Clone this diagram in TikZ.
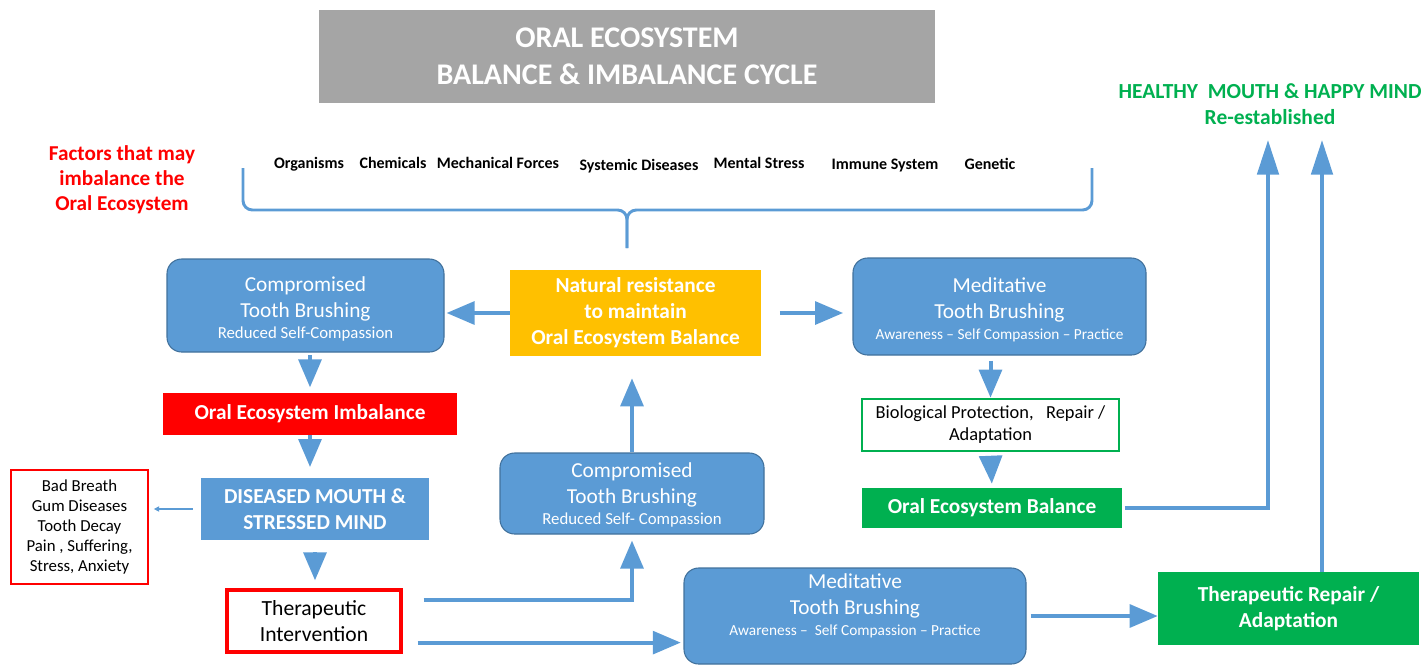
\documentclass[tikz,border=0pt]{standalone}
\usepackage{fontspec}
\setmainfont{Carlito}
\usetikzlibrary{arrows.meta,calc}

\definecolor{flowblue}{HTML}{5B9BD5}
\definecolor{edgeblue}{HTML}{41719C}
\definecolor{resgold}{HTML}{FFC000}
\definecolor{okgreen}{HTML}{00B050}
\definecolor{badred}{HTML}{FF0000}
\definecolor{titlegray}{HTML}{A5A5A5}

\newcommand{\maintxt}{\fontsize{16}{19.5}\selectfont}
\newcommand{\subtxt}{\fontsize{12.6}{16.5}\selectfont}
\newcommand{\medtxt}{\fontsize{11.5}{16.5}\selectfont}

\tikzset{
  flow/.style={draw=flowblue, line width=3pt, -{Triangle[length=21pt,width=17pt]}},
  flowup/.style={draw=flowblue, line width=3pt, -{Triangle[length=26pt,width=16pt]}},
  thinflow/.style={draw=flowblue, line width=0.8pt, -{Triangle[length=4pt,width=4pt]}},
  brushbox/.style={rounded corners=11pt, fill=flowblue, draw=edgeblue, line width=0.8pt,
    text=white, align=center, inner sep=0pt, font=\maintxt},
  solidbox/.style={inner sep=0pt, align=center, text=white, font=\maintxt\bfseries},
  linebox/.style={inner sep=0pt, align=center, fill=white},
  factor/.style={font=\fontsize{12}{14}\selectfont\bfseries, anchor=base}
}

\begin{document}
\begin{tikzpicture}[x=0.75pt,y=-0.75pt]
  \clip (0,0) rectangle (1425,665);

  % title and factors
  \node[fill=titlegray, minimum width=462pt, minimum height=69.75pt, inner sep=0pt, text=white, align=center,
    font=\fontsize{22.5}{27.75}\selectfont\bfseries] (title) at (627,56) {ORAL ECOSYSTEM\\BALANCE \& IMBALANCE CYCLE};
  \node[text=badred, align=center, font=\fontsize{15.9}{18.75}\selectfont\bfseries] (factors) at (122,180)
    {Factors that may\\imbalance the\\Oral Ecosystem};

  \node[factor] (org) at (309,168) {Organisms};
  \node[factor] (chem) at (393,168) {Chemicals};
  \node[factor] (mech) at (498,168) {Mechanical Forces};
  \node[factor] (sys) at (639,170) {Systemic Diseases};
  \node[factor] (mental) at (759,168) {Mental Stress};
  \node[factor] (immune) at (885,169) {Immune System};
  \node[factor] (gene) at (990,169) {Genetic};

  % brace
  \draw[flowblue, line width=2.2pt, rounded corners=7pt] (243,168) -- (243,210) -- (627,210) -- (627,248);
  \draw[flowblue, line width=2.2pt, rounded corners=7pt] (627,248) -- (627,210) -- (1092,210) -- (1092,168);

  % boxes
  \node[solidbox, fill=resgold, minimum width=188.25pt, minimum height=64.5pt] (nat) at (635.5,313)
    {Natural resistance\\to maintain\\Oral Ecosystem Balance};
  \node[brushbox, minimum width=207.75pt, minimum height=69.75pt] (comp1) at (305.5,305.5)
    {Compromised\\Tooth Brushing\\[-3.75pt]{\subtxt Reduced Self-Compassion}\\[-22pt]\mbox{}};
  \node[brushbox, minimum width=219.75pt, minimum height=72.75pt] (medit1) at (999.5,306.5)
    {Meditative\\Tooth Brushing\\[-3.75pt]{\medtxt Awareness – Self Compassion – Practice}\\[-23pt]\mbox{}};
  \node[linebox, draw=okgreen, line width=2pt, minimum width=192.75pt, minimum height=39pt,
    font=\fontsize{13.8}{16.5}\selectfont] (bio) at (990.5,425) {Biological Protection,~~~Repair /\\Adaptation};
  \node[solidbox, fill=okgreen, minimum width=195pt, minimum height=30pt] (oeb) at (992,508) {Oral Ecosystem Balance};
  \node[solidbox, fill=badred, minimum width=220.5pt, minimum height=31.5pt] (oei) at (310,414) {Oral Ecosystem Imbalance};
  \node[solidbox, fill=flowblue, minimum width=171pt, minimum height=46.5pt] (dis) at (315,509)
    {DISEASED MOUTH \&\\STRESSED MIND};
  \node[linebox, draw=badred, line width=0.8pt, minimum width=102.75pt, minimum height=85.5pt,
    font=\fontsize{12.6}{15}\selectfont] (bad) at (79.5,527)
    {Bad Breath\\Gum Diseases\\Tooth Decay\\Pain , Suffering,\\Stress, Anxiety};
  \node[linebox, draw=badred, line width=2.4pt, minimum width=130.5pt, minimum height=46.5pt,
    font=\fontsize{16.2}{19.5}\selectfont] (ti) at (314,621) {Therapeutic\\Intervention};
  \node[brushbox, minimum width=198pt, minimum height=60.75pt] (comp2) at (632,493.5)
    {Compromised\\Tooth Brushing\\[-3.75pt]{\subtxt Reduced Self- Compassion}\\[-20pt]\mbox{}};
  \node[brushbox, minimum width=256.5pt, minimum height=72pt] (medit2) at (855,616)
    {Meditative\\Tooth Brushing\\[-3.75pt]{\medtxt Awareness –\ \ Self Compassion – Practice}\\[-3pt]\mbox{}};
  \node[solidbox, fill=okgreen, minimum width=195.75pt, minimum height=54.75pt] (tr) at (1288.5,608.5)
    {Therapeutic Repair /\\Adaptation};
  \node[text=okgreen, align=center, font=\fontsize{16.1}{19.5}\selectfont\bfseries] (healthy) at (1270,104)
    {HEALTHY\ \ MOUTH \& HAPPY MIND\\Re-established};

  \coordinate (hl) at (1268,140);
  \coordinate (hr) at (1322,140);
  \coordinate (tiup) at ($(ti.north east)+(21,12)$);
  \coordinate (tiright) at ($(ti.south east)+(15,-11)$);

  % connectors
  \draw[flow, shorten >=1.5pt] (nat.west) -- (nat.west -| comp1.east);
  \draw[flow, shorten <=14pt, shorten >=7pt] (nat.east) -- (nat.east -| medit1.west);
  \draw[flow, shorten <=2pt, shorten >=4pt] (oei.north |- comp1.south) -- (oei.north);
  \draw[flow, shorten >=8pt] (oei.south) -- (oei.south |- dis.north);
  \draw[flow, shorten <=9pt, shorten >=6pt] (dis.south) -- (dis.south |- ti.north);
  \draw[thinflow, shorten <=6pt, shorten >=4pt] (dis.west) -- (dis.west -| bad.east);
  \draw[flow, shorten >=4.5pt] (tiup) -| (comp2.south);
  \draw[flow, shorten >=2pt] (tiright) -- (tiright -| medit2.west);
  \draw[flow, shorten >=16.5pt] (comp2.north) -- (comp2.north |- nat.south);
  \draw[flow, shorten <=4pt] (bio.north |- medit1.south) -- (bio.north);
  \draw[flow, shorten <=3pt, shorten >=3pt] (bio.south) -- (oeb.north);
  \draw[flow, shorten <=3pt] (medit2.east) -- (medit2.east -| tr.west);
  \draw[flowup, shorten <=2pt] (oeb.east) -| (hl);
  \draw[flowup] (tr.north -| hr) -- (hr);
\end{tikzpicture}
\end{document}
